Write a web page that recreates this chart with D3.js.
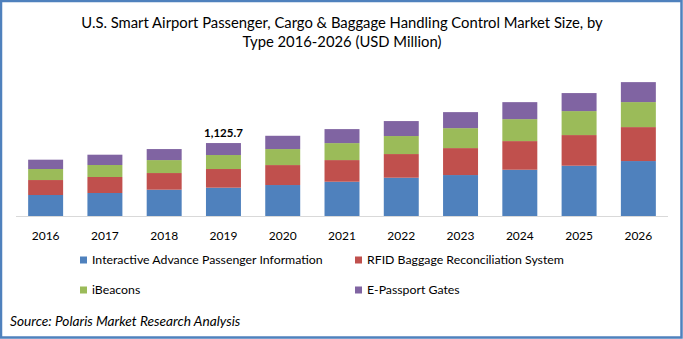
<!DOCTYPE html>
<html>
<head>
<meta charset="utf-8">
<script src="https://cdn.jsdelivr.net/npm/d3@7"></script>
<style>
  html, body { margin: 0; padding: 0; background: #fff; }
  svg { display: block; font-family: Lato, "Noto Sans", sans-serif; }
</style>
</head>
<body>
<div id="chart"></div>
<script>
// data (USD Million)
const years = ["2016", "2017", "2018", "2019", "2020", "2021", "2022", "2023", "2024", "2025", "2026"];
const seriesNames = [
  "Interactive Advance Passenger Information",
  "RFID Baggage Reconciliation System",
  "iBeacons",
  "E-Passport Gates"
];
const passengerInfo = [324, 355, 406, 437, 478, 529, 591, 632, 714, 776, 848];
const rfidBaggage   = [231, 247, 257, 288, 308, 334, 365, 416, 442, 473, 524];
const iBeacons      = [170, 185, 200, 216, 247, 262, 278, 308, 339, 370, 386];
const ePassport     = [144, 159, 170, 184.7, 205, 216, 231, 247, 262, 278, 308];
const annotations = [{ year: "2019", label: "1,125.7" }];
const colors = ["#4F81BD", "#C0504D", "#9BBB59", "#8064A2"];

const width = 683, height = 339;

const svg = d3.select("#chart")
  .append("svg")
  .attr("width", width)
  .attr("height", height);

svg.append("rect")
  .attr("x", 1).attr("y", 1)
  .attr("width", width - 2.5).attr("height", height - 2.5)
  .attr("fill", "#fff")
  .attr("stroke", "#4F81BD")
  .attr("stroke-width", 2.5);

// title
const title = svg.append("text")
  .attr("text-anchor", "middle")
  .attr("font-size", 14.8)
  .attr("fill", "#000");
title.append("tspan").attr("x", 342).attr("y", 28)
  .text("U.S. Smart Airport Passenger, Cargo & Baggage Handling Control Market Size, by");
title.append("tspan").attr("x", 342).attr("y", 47)
  .text("Type 2016-2026 (USD Million)");

// stacked data
let rows = years.map((yr, i) => ({
  year: yr,
  s0: passengerInfo[i],
  s1: rfidBaggage[i],
  s2: iBeacons[i],
  s3: ePassport[i]
}));
let stack = d3.stack().keys(["s0", "s1", "s2", "s3"]);
let layers = stack(rows);

let x = d3.scaleBand()
  .domain(years)
  .range([16, 668])
  .paddingInner(0.41)
  .paddingOuter(0.205);

let y = d3.scaleLinear()
  .domain([0, 2500])
  .range([216, 54]);

svg.append("g")
  .selectAll("g")
  .data(layers)
  .join("g")
  .attr("fill", (d, i) => colors[i])
  .selectAll("rect")
  .data(d => d)
  .join("rect")
  .attr("x", d => x(d.data.year))
  .attr("y", d => y(d[1]))
  .attr("width", x.bandwidth())
  .attr("height", d => y(d[0]) - y(d[1]));

// x axis
let xAxis = svg.append("g")
  .attr("transform", "translate(0,216)")
  .call(d3.axisBottom(x).tickSize(0).tickPadding(15));
xAxis.select(".domain").attr("stroke", "#d9d9d9").attr("d", "M16,0.5H668");
xAxis.selectAll("text")
  .attr("font-family", "Lato, 'Noto Sans', sans-serif")
  .attr("font-size", 12)
  .attr("fill", "#000");

// value label
let totals = {};
rows.forEach(r => totals[r.year] = r.s0 + r.s1 + r.s2 + r.s3);
svg.selectAll(".val")
  .data(annotations)
  .join("text")
  .attr("class", "val")
  .attr("x", d => x(d.year) + x.bandwidth() / 2)
  .attr("y", d => y(totals[d.year]) - 6)
  .attr("text-anchor", "middle")
  .attr("font-size", 11.5)
  .attr("font-weight", "bold")
  .attr("fill", "#000")
  .text(d => d.label);

// legend
let legendPos = [[80, 260], [355, 260], [80, 290], [355, 290]];
let legend = svg.append("g")
  .selectAll("g")
  .data(seriesNames)
  .join("g")
  .attr("transform", (d, i) => `translate(${legendPos[i][0]},${legendPos[i][1]})`);
legend.append("rect")
  .attr("x", 0).attr("y", -3.5)
  .attr("width", 7).attr("height", 7)
  .attr("fill", (d, i) => colors[i]);
legend.append("text")
  .attr("x", 12)
  .attr("y", 4)
  .attr("font-size", 12.3)
  .attr("fill", "#000")
  .text(d => d);

// source
svg.append("text")
  .attr("x", 10)
  .attr("y", 326)
  .attr("font-size", 13.7)
  .attr("font-style", "italic")
  .attr("fill", "#000")
  .text("Source: Polaris Market Research Analysis");
</script>
</body>
</html>
